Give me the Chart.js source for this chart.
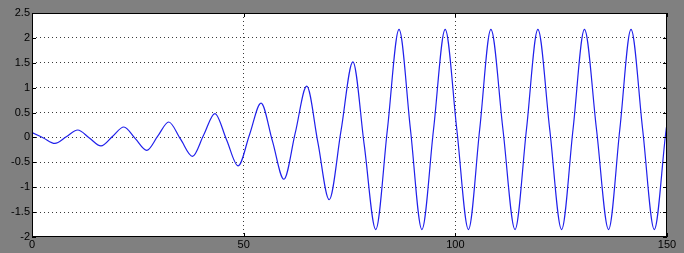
<!DOCTYPE html>
<html>
<head>
<meta charset="utf-8">
<script src="https://cdn.jsdelivr.net/npm/chart.js@4.4.0/dist/chart.umd.min.js"></script>
<style>
  html, body { margin: 0; padding: 0; background: #808080; }
</style>
</head>
<body>
<canvas id="waveChart" width="684" height="253"></canvas>
<script>
// samples: peaks, troughs and the crossings between them
const xs = [0, 2.7, 5.4, 8.1, 10.8, 13.55, 16.3, 19.0, 21.7, 24.4,
            27.1, 29.7, 32.3, 35.1, 37.9, 40.55, 43.2, 45.95, 48.7, 51.4,
            54.1, 56.8, 59.5, 62.2, 64.9, 67.55, 70.2, 73.0, 75.8, 78.5,
            81.2, 83.95, 86.7, 89.4, 92.1, 94.85, 97.6, 100.35, 103.1, 105.75,
            108.4, 111.25, 114.1, 116.8, 119.5, 122.3, 125.1, 127.8, 130.5, 133.35,
            136.2, 138.85, 141.5, 144.25, 147.0, 149.8, 150];
const ys = [0.10, -0.01, -0.12, 0.015, 0.15, -0.01, -0.17, 0.02, 0.21, -0.025,
            -0.26, 0.025, 0.31, -0.035, -0.38, 0.05, 0.48, -0.045, -0.57, 0.06,
            0.69, -0.075, -0.84, 0.095, 1.03, -0.11, -1.25, 0.135, 1.52, -0.165,
            -1.85, 0.16, 2.17, 0.16, -1.85, 0.16, 2.17, 0.16, -1.85, 0.16,
            2.17, 0.16, -1.85, 0.16, 2.17, 0.16, -1.85, 0.16, 2.17, 0.16,
            -1.85, 0.16, 2.17, 0.16, -1.85, 0.16, 0.27];

const xTicks = [0, 50, 100, 150];
const yTicks = [-2, -1.5, -1, -0.5, 0, 0.5, 1, 1.5, 2, 2.5];

const points = xs.map((x, i) => ({ x: x, y: ys[i] }));

const tickFont = { family: "Liberation Sans, Arial, sans-serif", size: 11 };

// transparent grid on the box edges, dotted inside
function gridColor(ctx) {
    const v = ctx.tick ? ctx.tick.value : null;
    if (v === 0 && ctx.scale.axis === "x") return "rgba(0,0,0,0)";
    if (v === 150 || v === -2 || v === 2.5) return "rgba(0,0,0,0)";
    return "#3a3a3a";
}

// white axes area + black box with inward ticks, like matlab
const boxPlugin = {
    id: "box",
    beforeDraw(chart) {
        const c = chart.ctx, a = chart.chartArea;
        c.save();
        c.fillStyle = "#808080";
        c.fillRect(0, 0, chart.width, chart.height);
        c.fillStyle = "#ffffff";
        c.fillRect(a.left, a.top, a.right - a.left, a.bottom - a.top);
        c.restore();
    },
    afterDraw(chart) {
        const c = chart.ctx, a = chart.chartArea;
        const xs_ = chart.scales.x, ys_ = chart.scales.y;
        c.save();
        c.strokeStyle = "#000";
        c.lineWidth = 1;
        c.strokeRect(a.left + 0.5, a.top + 0.5, a.right - a.left - 1, a.bottom - a.top - 1);
        c.beginPath();
        yTicks.forEach(v => {
            const p = Math.round(ys_.getPixelForValue(v)) + 0.5;
            c.moveTo(a.left, p); c.lineTo(a.left + 4, p);
            c.moveTo(a.right - 4, p); c.lineTo(a.right, p);
        });
        xTicks.forEach(v => {
            const p = Math.round(xs_.getPixelForValue(v)) + 0.5;
            c.moveTo(p, a.bottom); c.lineTo(p, a.bottom - 4);
            c.moveTo(p, a.top); c.lineTo(p, a.top + 4);
        });
        c.stroke();
        c.restore();
    }
};

new Chart(document.getElementById("waveChart").getContext("2d"), {
    type: "line",
    data: {
        datasets: [{
            data: points,
            borderColor: "rgb(32, 32, 235)",
            borderWidth: 1.2,
            pointRadius: 0,
            fill: false,
            cubicInterpolationMode: "monotone"
        }]
    },
    options: {
        responsive: false,
        animation: false,
        layout: { padding: { top: 13, right: 17, left: 0, bottom: 0 } },
        plugins: { legend: { display: false }, tooltip: { enabled: false } },
        scales: {
            x: {
                type: "linear",
                min: 0,
                max: 150,
                afterBuildTicks: s => { s.ticks = xTicks.map(v => ({ value: v })); },
                afterFit: s => { s.height = 16; },
                ticks: { color: "#000", font: tickFont, padding: 1, maxRotation: 0, callback: v => String(v) },
                grid: { color: gridColor, lineWidth: 1, drawTicks: false },
                border: { display: false, dash: [1, 3] }
            },
            y: {
                min: -2,
                max: 2.5,
                afterBuildTicks: s => { s.ticks = yTicks.map(v => ({ value: v })); },
                afterFit: s => { s.width = 32; },
                ticks: { color: "#000", font: tickFont, padding: 2, callback: v => String(v) },
                grid: { color: gridColor, lineWidth: 1, drawTicks: false },
                border: { display: false, dash: [1, 3] }
            }
        }
    },
    plugins: [boxPlugin]
});
</script>
</body>
</html>
